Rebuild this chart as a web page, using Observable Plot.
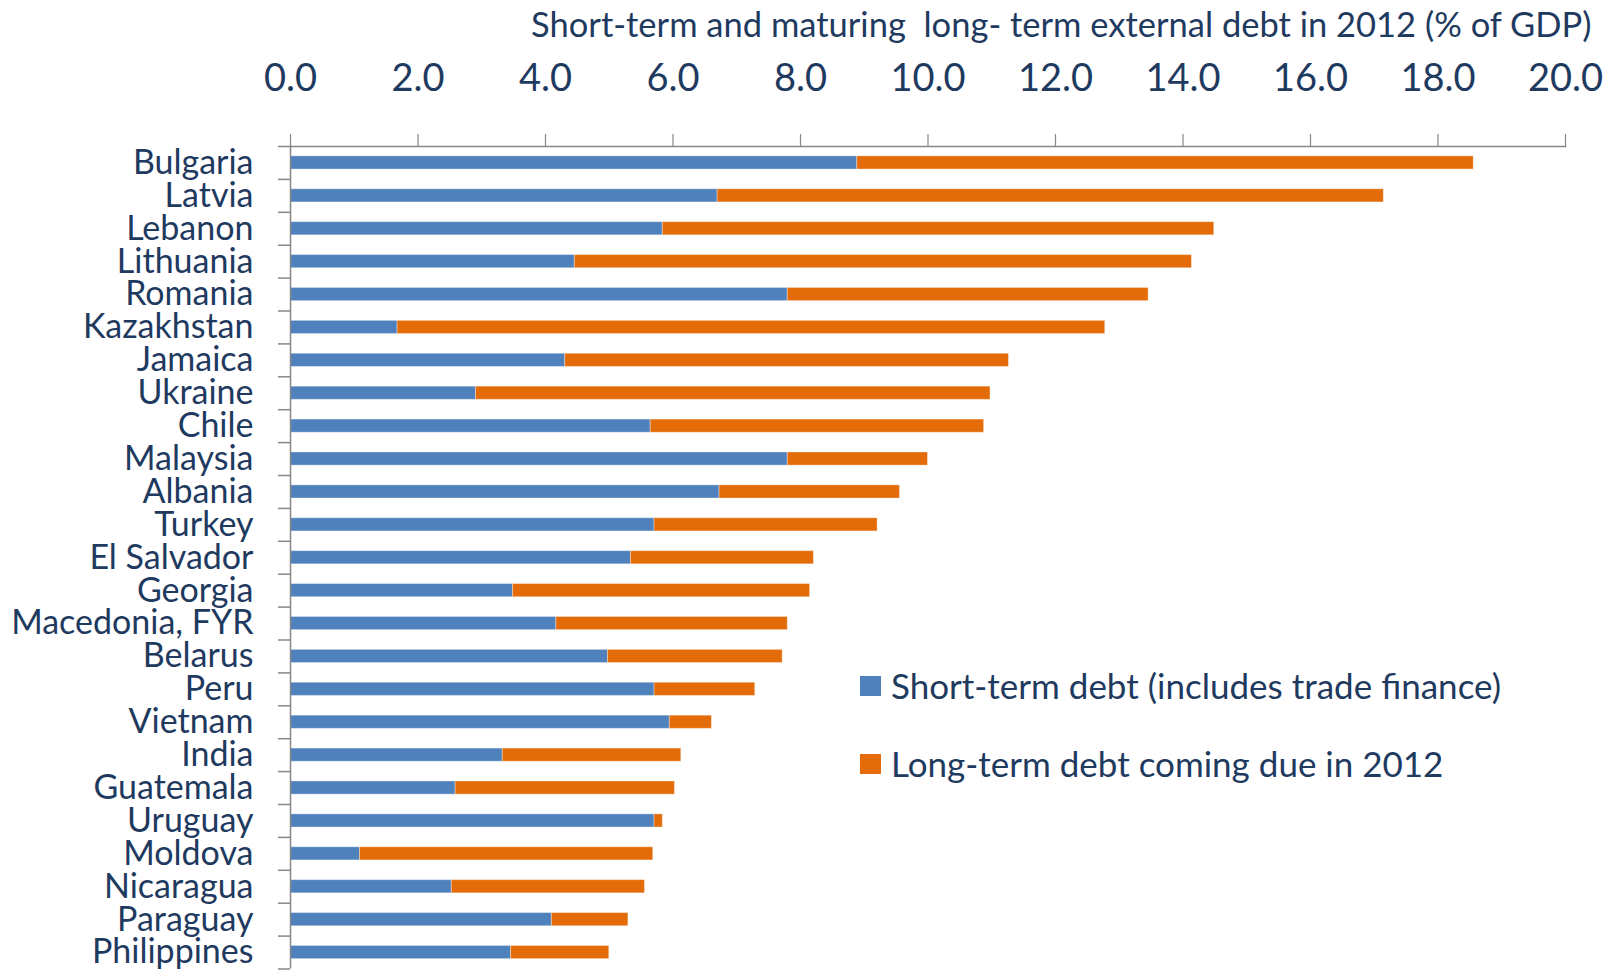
<!DOCTYPE html>
<html>
<head>
<meta charset="utf-8">
<script src="https://cdn.jsdelivr.net/npm/d3@7"></script>
<script src="https://cdn.jsdelivr.net/npm/@observablehq/plot@0.6"></script>
<style>
  html, body { margin: 0; padding: 0; background: #fff; }
  #wrap { position: relative; width: 1619px; height: 970px; overflow: hidden; font-family: Lato, "Open Sans", sans-serif; }
  #wrap svg { position: absolute; left: 0; top: 0; }
  .legend { position: absolute; left: 860px; top: 0; font-size: 35px; color: #1f3a5f; }
  .legend .row { position: absolute; left: 0; display: flex; align-items: center; white-space: nowrap; line-height: 1; }
  .legend .sw { width: 21px; height: 20px; margin-right: 10px; flex: none; }
</style>
</head>
<body>
<div id="wrap"></div>
<script>
const title = "Short-term and maturing  long- term external debt in 2012 (% of GDP)";
const countries = ["Bulgaria","Latvia","Lebanon","Lithuania","Romania","Kazakhstan","Jamaica","Ukraine","Chile","Malaysia","Albania","Turkey","El Salvador","Georgia","Macedonia, FYR","Belarus","Peru","Vietnam","India","Guatemala","Uruguay","Moldova","Nicaragua","Paraguay","Philippines"];
const shortTerm = [8.89,6.70,5.84,4.46,7.80,1.68,4.31,2.91,5.65,7.80,6.73,5.71,5.34,3.49,4.17,4.98,5.71,5.95,3.33,2.59,5.71,1.09,2.53,4.10,3.46];
const longTermDue = [9.67,10.45,8.65,9.68,5.66,11.10,6.96,8.07,5.23,2.20,2.83,3.50,2.87,4.66,3.63,2.74,1.58,0.66,2.80,3.44,0.13,4.60,3.03,1.20,1.54];
const seriesNames = ["Short-term debt (includes trade finance)", "Long-term debt coming due in 2012"];
const seriesColors = ["#4f81bd", "#e36c09"];
const xTicks = [0,2,4,6,8,10,12,14,16,18,20];

const rows = [];
countries.forEach((c, i) => {
  rows.push({country: c, series: seriesNames[0], value: shortTerm[i]});
  rows.push({country: c, series: seriesNames[1], value: longTermDue[i]});
});

const W = 1619, H = 970;
const mTop = 146, mBottom = 1.5, mLeft = 290, mRight = 54;
const step = (H - mTop - mBottom) / countries.length;
const textColor = "#1f3a5f";
const axisColor = "#878787";

const chart = Plot.plot({
  width: W,
  height: H,
  marginTop: mTop,
  marginBottom: mBottom,
  marginLeft: mLeft,
  marginRight: mRight,
  style: {fontFamily: "Lato, 'Open Sans', sans-serif", background: "#fff"},
  x: {domain: [0, 20]},
  y: {domain: countries, paddingInner: 0.6, paddingOuter: 0.3, round: false},
  color: {domain: seriesNames, range: seriesColors},
  marks: [
    Plot.barX(rows, {y: "country", x: "value", fill: "series", stroke: "#ffffff", strokeOpacity: 0.35, strokeWidth: 1}),
    Plot.ruleX([0], {stroke: axisColor, strokeWidth: 1.5}),
    Plot.frame({anchor: "top", stroke: axisColor, strokeWidth: 1.5}),
    Plot.axisX({anchor: "top", ticks: xTicks, tickFormat: d3.format(".1f"), tickSize: 13, tickPadding: 43, fontSize: 38, fill: textColor, stroke: axisColor, strokeWidth: 1.2, label: null}),
    Plot.axisY({anchor: "left", tickSize: 0, tickPadding: 37, fontSize: 34, fill: textColor, label: null}),
    Plot.axisY({anchor: "left", tickSize: 12, text: null, dy: step / 2, stroke: axisColor, strokeWidth: 1.5, label: null}),
    Plot.axisY({anchor: "left", ticks: [countries[0]], tickSize: 12, text: null, dy: -step / 2, stroke: axisColor, strokeWidth: 1.5, label: null}),
    Plot.text([title], {frameAnchor: "top-right", text: d => d, textAnchor: "end", dx: 26, dy: -134, fontSize: 34.5, fill: textColor})
  ]
});

const wrap = document.getElementById("wrap");
wrap.appendChild(chart);

const legend = document.createElement("div");
legend.className = "legend";
const tops = [668, 746];
seriesNames.forEach((name, i) => {
  const row = document.createElement("div");
  row.className = "row";
  row.style.top = tops[i] + "px";
  const sw = document.createElement("span");
  sw.className = "sw";
  sw.style.background = seriesColors[i];
  const t = document.createElement("span");
  t.textContent = name;
  row.appendChild(sw);
  row.appendChild(t);
  legend.appendChild(row);
});
wrap.appendChild(legend);
</script>
</body>
</html>
